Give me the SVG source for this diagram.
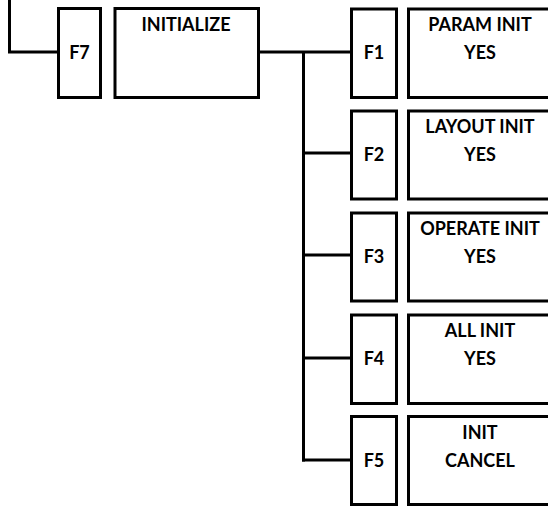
<svg xmlns="http://www.w3.org/2000/svg" width="548" height="508" viewBox="0 0 548 508">
<style>
.box{fill:#fff;stroke:#000;stroke-width:3}
.ln{fill:none;stroke:#000;stroke-width:3}
text{font-family:Lato,"Liberation Sans",sans-serif;font-weight:bold;font-size:18px;fill:#000;text-anchor:middle}
</style>
<rect width="548" height="508" fill="#fff"/>
<g id="connectors">
<polyline class="ln" points="9.5,0 9.5,52 58,52"/>
<line class="ln" x1="258" y1="52" x2="351" y2="52"/>
<line class="ln" x1="303.5" y1="52" x2="303.5" y2="461.5"/>
<line class="ln" x1="302" y1="153" x2="351" y2="153"/>
<line class="ln" x1="302" y1="255" x2="351" y2="255"/>
<line class="ln" x1="302" y1="358" x2="351" y2="358"/>
<line class="ln" x1="302" y1="460" x2="351" y2="460"/>
</g>
<g id="f7"><rect class="box" x="58.5" y="8.5" width="42" height="89"/><text x="79.5" y="59">F7</text></g>
<g id="initialize"><rect class="box" x="115" y="8.5" width="143.5" height="89"/><text x="186" y="31">INITIALIZE</text></g>
<g id="f1"><rect class="box" x="351.5" y="9" width="45" height="88.5"/><text x="374" y="59">F1</text></g>
<g id="param"><rect class="box" x="408.5" y="9" width="150" height="88.5"/><text x="480" y="31">PARAM INIT</text><text x="480" y="59">YES</text></g>
<g id="f2"><rect class="box" x="351.5" y="111" width="45" height="88"/><text x="374" y="161">F2</text></g>
<g id="layout"><rect class="box" x="408.5" y="111" width="150" height="88"/><text x="480" y="133">LAYOUT INIT</text><text x="480" y="161">YES</text></g>
<g id="f3"><rect class="box" x="351.5" y="213" width="45" height="88"/><text x="374" y="263">F3</text></g>
<g id="operate"><rect class="box" x="408.5" y="213" width="150" height="88"/><text x="480" y="235">OPERATE INIT</text><text x="480" y="263">YES</text></g>
<g id="f4"><rect class="box" x="351.5" y="315" width="45" height="88.5"/><text x="374" y="365">F4</text></g>
<g id="all"><rect class="box" x="408.5" y="315" width="150" height="88.5"/><text x="480" y="337">ALL INIT</text><text x="480" y="365">YES</text></g>
<g id="f5"><rect class="box" x="351.5" y="416.5" width="45" height="88"/><text x="374" y="467">F5</text></g>
<g id="cancel"><rect class="box" x="408.5" y="416.5" width="150" height="88"/><text x="480" y="439">INIT</text><text x="480" y="467">CANCEL</text></g>
</svg>
